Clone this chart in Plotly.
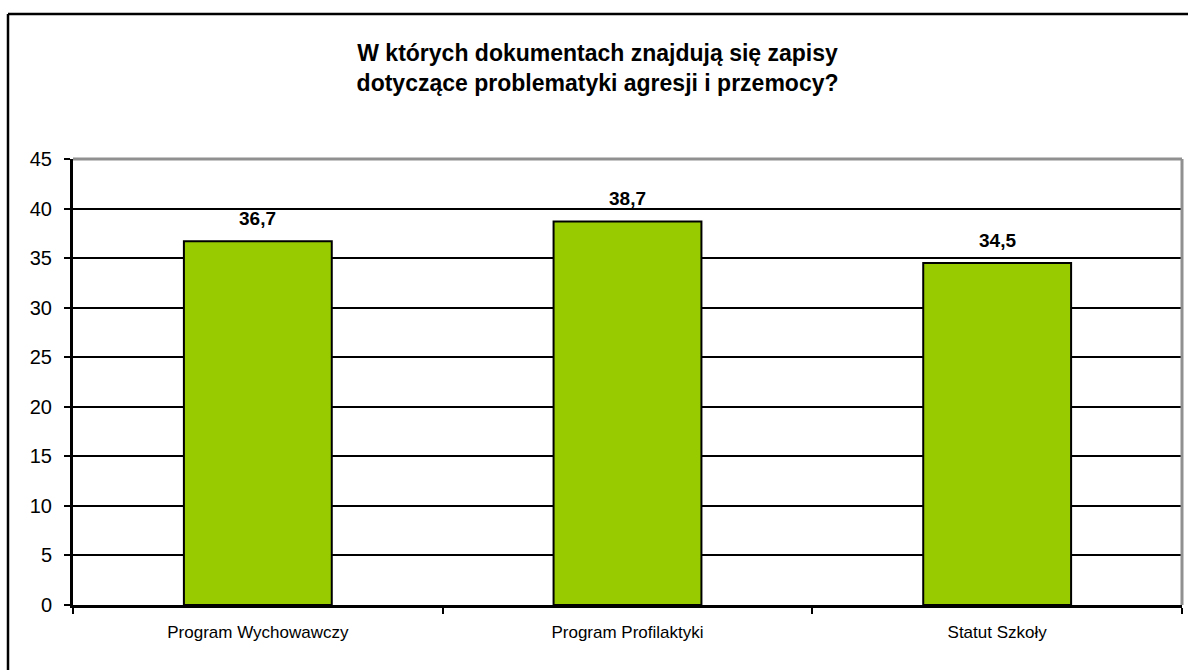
import plotly.graph_objects as go

# data
categories = ["Program Wychowawczy", "Program Profilaktyki", "Statut Szkoły"]
values = [36.7, 38.7, 34.5]
title_lines = ["W których dokumentach znajdują się zapisy",
               "dotyczące problematyki agresji i przemocy?"]

font_family = "Liberation Sans, Arial, sans-serif"

fig = go.Figure(go.Bar(
    x=categories,
    y=values,
    width=0.4,
    marker=dict(color="#99CC00", line=dict(color="black", width=2)),
))

# value labels above the bars
for c, v in zip(categories, values):
    fig.add_annotation(x=c, y=v, text="<b>" + f"{v:.1f}".replace(".", ",") + "</b>",
                       showarrow=False, yanchor="bottom", yshift=10,
                       font=dict(size=19, color="black", family=font_family))

fig.update_layout(
    width=1188, height=670,
    margin=dict(l=73, r=6, t=159, b=65),
    paper_bgcolor="white", plot_bgcolor="white",
    font=dict(family=font_family, color="black", size=17),
    showlegend=False,
    title=dict(text="<b>" + "<br>".join(title_lines) + "</b>",
               x=0.503, xanchor="center", xref="container",
               y=1 - 61 / 670, yanchor="middle", yref="container",
               font=dict(size=23, color="black", family=font_family)),
)

fig.update_yaxes(range=[0, 45], dtick=5, tickmode="linear",
                 showgrid=True, gridcolor="black", gridwidth=2,
                 showline=True, linecolor="black", linewidth=3,
                 ticks="outside", ticklen=6, tickwidth=2, tickcolor="black",
                 ticklabelstandoff=8, zeroline=False,
                 tickfont=dict(size=20))
fig.update_xaxes(showline=True, linecolor="black", linewidth=3,
                 ticks="outside", tickson="boundaries", ticklen=6, tickwidth=2,
                 tickcolor="black", ticklabelstandoff=10,
                 tickfont=dict(size=17))

# grey plot-area border on top and right
fig.add_shape(type="line", xref="paper", yref="paper", x0=0, x1=1, y0=1, y1=1,
              line=dict(color="#909090", width=3), layer="above")
fig.add_shape(type="line", xref="paper", yref="paper", x0=1, x1=1, y0=0, y1=1,
              line=dict(color="#909090", width=3), layer="above")

# outer chart frame (left and top edges visible)
fl = (8 - 73) / 1109
ft = (605 - 14) / 446
fig.add_shape(type="line", xref="paper", yref="paper", x0=fl, x1=fl, y0=ft, y1=-1,
              line=dict(color="black", width=2.5))
fig.add_shape(type="line", xref="paper", yref="paper", x0=fl, x1=1.2, y0=ft, y1=ft,
              line=dict(color="black", width=2.5))

fig.write_html("out.html", config={"displayModeBar": False},
               post_script="document.body.style.margin='0';")
